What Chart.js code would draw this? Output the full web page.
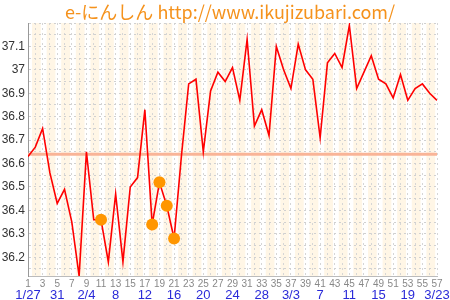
<!DOCTYPE html>
<html>
<head>
<meta charset="utf-8">
<script src="https://cdn.jsdelivr.net/npm/chart.js@4"></script>
<style>
  html, body { margin: 0; padding: 0; background: #fff; }
</style>
</head>
<body>
<canvas id="chart" width="450" height="300"></canvas>
<script>
const titleText = 'e-にんしん http://www.ikujizubari.com/';

// basal body temperature, one value per cycle day (day 1 .. 57)
const temps = [
  36.63, 36.67, 36.75, 36.56, 36.43, 36.49, 36.35, 36.12, 36.65, 36.36,
  36.36, 36.18, 36.47, 36.18, 36.50, 36.54, 36.83, 36.34, 36.52, 36.42,
  36.28, 36.63, 36.94, 36.96, 36.65, 36.91, 36.99, 36.95, 37.01, 36.87,
  37.13, 36.76, 36.83, 36.72, 37.10, 37.00, 36.92, 37.11, 37.00, 36.96,
  36.71, 37.03, 37.07, 37.01, 37.19, 36.92, 36.99, 37.06, 36.96, 36.94,
  36.88, 36.98, 36.87, 36.92, 36.94, 36.90, 36.87
];
const markerDays = [11, 18, 19, 20, 21];
const coverLine = 36.64;

const yTicks = [36.2, 36.3, 36.4, 36.5, 36.6, 36.7, 36.8, 36.9, 37.0, 37.1];
const dateTickDays = [1, 5, 9, 13, 17, 21, 25, 29, 33, 37, 41, 45, 49, 53, 57];
const dateTickText = ['1/27', '31', '2/4', '8', '12', '16', '20', '24', '28', '3/3', '7', '11', '15', '19', '3/23'];

const dayCount = temps.length;

// cream stripes on every other day
const stripes = {
  id: 'stripes',
  beforeDraw(chart) {
    const { ctx, chartArea, scales } = chart;
    ctx.save();
    ctx.fillStyle = '#fff6e6';
    for (let d = 2; d <= dayCount; d += 2) {
      const x0 = Math.max(scales.x.getPixelForValue(d - 0.45), chartArea.left);
      const x1 = Math.min(scales.x.getPixelForValue(d + 0.75), chartArea.right);
      ctx.fillRect(x0, chartArea.top, x1 - x0, chartArea.bottom - chartArea.top);
    }
    ctx.restore();
  }
};

// the site banner sits a little right of centre, so draw it by hand
const banner = {
  id: 'banner',
  afterDraw(chart) {
    const { ctx } = chart;
    ctx.save();
    ctx.fillStyle = '#f5921c';
    ctx.font = '18px "Noto Sans CJK JP"';
    ctx.textAlign = 'center';
    ctx.textBaseline = 'middle';
    ctx.fillText(titleText, 230, 12);
    ctx.restore();
  }
};

new Chart(document.getElementById('chart'), {
  type: 'line',
  data: {
    datasets: [
      {
        data: markerDays.map(d => ({ x: d, y: temps[d - 1] })),
        showLine: false,
        pointRadius: 6,
        pointBackgroundColor: '#ff9600',
        pointBorderWidth: 0,
        order: 0
      },
      {
        data: temps.map((t, i) => ({ x: i + 1, y: t })),
        borderColor: '#ff0000',
        borderWidth: 1.6,
        pointRadius: 0,
        tension: 0,
        order: 1
      },
      {
        data: [{ x: 1, y: coverLine }, { x: dayCount, y: coverLine }],
        borderColor: '#f9b497',
        borderWidth: 3,
        pointRadius: 0,
        order: 2
      }
    ]
  },
  options: {
    responsive: false,
    animation: false,
    layout: { padding: { left: 0, right: 13, top: 23, bottom: 0 } },
    plugins: {
      legend: { display: false },
      tooltip: { enabled: false }
    },
    scales: {
      x: {
        type: 'linear',
        position: 'bottom',
        weight: 0,
        min: 1,
        max: dayCount,
        afterBuildTicks: s => { s.ticks = temps.map((t, i) => ({ value: i + 1 })); },
        afterFit: s => { s.height = 12; },
        ticks: {
          autoSkip: false,
          maxRotation: 0,
          padding: 2,
          color: '#888',
          font: { family: 'Liberation Sans', size: 10 },
          callback: v => (v % 2 === 1 ? String(v) : '')
        },
        grid: { color: '#d6d6d6', drawTicks: false },
        border: { display: true, color: '#bbb', dash: [2, 3] }
      },
      x2: {
        type: 'linear',
        position: 'bottom',
        weight: 1,
        min: 1,
        max: dayCount,
        afterBuildTicks: s => { s.ticks = dateTickDays.map(v => ({ value: v })); },
        afterFit: s => { s.height = 12; },
        ticks: {
          autoSkip: false,
          maxRotation: 0,
          padding: 0,
          color: '#2a2ad8',
          font: { family: 'Liberation Sans', size: 13 },
          callback: v => dateTickText[dateTickDays.indexOf(v)]
        },
        grid: { display: false, drawTicks: false },
        border: { display: false }
      },
      y: {
        min: 36.12,
        max: 37.2,
        afterBuildTicks: s => {
          const t = [];
          for (let v = 36.15; v < 37.2; v += 0.05) t.push({ value: Math.round(v * 100) / 100 });
          s.ticks = t;
        },
        afterFit: s => { s.width = 28; },
        ticks: {
          autoSkip: false,
          padding: 3,
          color: '#333',
          font: { family: 'Liberation Sans', size: 12 },
          callback: v => (yTicks.includes(v) ? String(v) : '')
        },
        grid: { color: '#d0d0d0', drawTicks: false },
        border: { display: true, color: '#999', dash: [2, 3] }
      }
    }
  },
  plugins: [stripes, banner]
});
</script>
</body>
</html>
